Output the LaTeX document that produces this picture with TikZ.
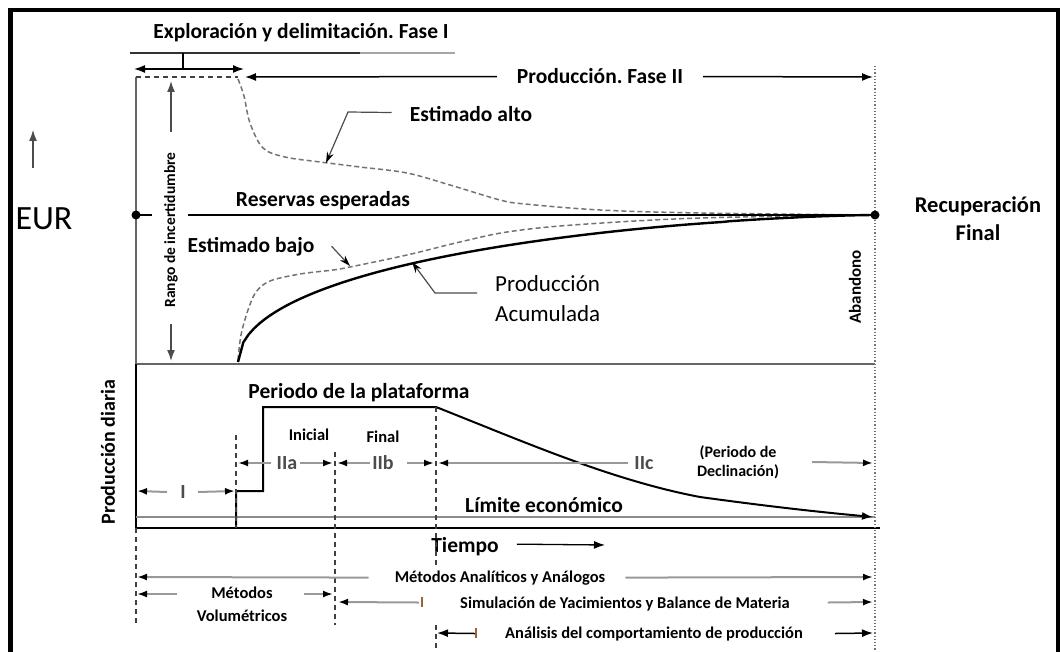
\documentclass[tikz,border=0pt]{standalone}
\usepackage{fontspec}
\setmainfont{Carlito}
\usetikzlibrary{arrows.meta,positioning,calc}
\frenchspacing

\tikzstyle{border} = [line width=4.5pt]
\tikzstyle{axisline} = [line width=1.5pt]
\tikzstyle{estline} = [draw=black!55, line width=1.5pt, dash pattern=on 5pt off 3pt]
\tikzstyle{guide} = [draw=black!75, line width=1.2pt, dash pattern=on 5pt off 4pt]
\tikzstyle{arrow} = [line width=1.5pt, -{Latex[length=11pt,width=8pt]}]
\tikzstyle{dimarrow} = [draw=black!40, line width=2pt, -{Latex[length=10pt,width=7pt,black]}]
\tikzstyle{leader} = [draw=black!70, line width=1.2pt, -{Stealth[length=11pt,width=7pt,black]}]
\tikzstyle{bigtxt} = [font=\bfseries\fontsize{21.5}{26}\selectfont, inner sep=0pt]
\tikzstyle{smalltxt} = [font=\bfseries\fontsize{16.5}{20}\selectfont, inner sep=0pt]
\tikzstyle{phasetxt} = [font=\bfseries\fontsize{20}{22}\selectfont, text=black!70, inner sep=0pt]

\begin{document}
\begin{tikzpicture}[x=1pt,y=-1pt]
\useasboundingbox (0,0) rectangle (1062,652);

% frame
\draw[border] (10.5,670) -- (10.5,10) -- (1058,10) -- (1058,670);

% labels
\node[bigtxt, anchor=base] (explo) at (301,39) {Exploración y delimitación. Fase I};
\node[bigtxt, anchor=base] (faseII) at (600,84) {Producción. Fase II};
\node[bigtxt, anchor=base] (alto) at (471,122) {Estimado alto};
\node[bigtxt, anchor=base] (reservas) at (323,207) {Reservas esperadas};
\node[bigtxt, anchor=base] (bajo) at (251,252) {Estimado bajo};
\node[font=\fontsize{23}{30}\selectfont, align=left, anchor=west, inner sep=0pt] (acum) at (495,299) {Producción\\Acumulada};
\node[font=\fontsize{34}{36}\selectfont, anchor=base, inner sep=0pt] (eur) at (44,230) {EUR};
\node[font=\bfseries\fontsize{22.5}{28}\selectfont, align=center, inner sep=0pt] (recup) at (978,219) {Recuperación\\Final};
\node[font=\bfseries\fontsize{15.5}{18}\selectfont, rotate=90, inner sep=0pt] (rango) at (171,230) {Rango de incertidumbre};
\node[font=\bfseries\fontsize{17}{20}\selectfont, rotate=90, inner sep=0pt] (aband) at (855,287) {Abandono};
\node[font=\bfseries\fontsize{20}{22}\selectfont, rotate=90, inner sep=0pt] (diaria) at (108,452) {Producción diaria};
\node[bigtxt, anchor=base] (plat) at (359,398) {Periodo de la plataforma};
\node[smalltxt, anchor=base] (inicial) at (309,440) {Inicial};
\node[smalltxt, anchor=base] (final) at (383,442) {Final};
\node[phasetxt] (ph1) at (183,492) {I};
\node[phasetxt] (ph2a) at (287,463) {IIa};
\node[phasetxt] (ph2b) at (383,463) {IIb};
\node[phasetxt] (ph2c) at (644,463) {IIc};
\node[font=\bfseries\fontsize{16}{19}\selectfont, align=center, inner sep=0pt] (decl) at (738,462) {(Periodo de\\Declinación)};
\node[bigtxt, anchor=base] (limite) at (544,512) {Límite económico};
\node[bigtxt, anchor=base] (tiempo) at (465,552) {Tiempo};
\node[smalltxt, anchor=base] (analog) at (500,582) {Métodos Analíticos y Análogos};
\node[font=\bfseries\fontsize{16.5}{23}\selectfont, align=center, inner sep=0pt] (volum) at (242,604) {Métodos\\Volumétricos};
\node[smalltxt, anchor=base] (simul) at (625,608) {Simulación de Yacimientos y Balance de Materia};
\node[smalltxt, anchor=base] (analis) at (654,638) {Análisis del comportamiento de producción};

% axes and reference lines
\draw[axisline, draw=black!60] (136,77) -- (136,364) -- (875,364);
\draw[axisline] (136,364) -- (136,528) -- (880,528);
\draw[draw=black!45, line width=1.3pt] (136,517) -- (875,517);
\draw[black!55, line width=1.2pt, dotted] (875,66) -- (875,652);
\draw[guide] (136,77) -- (238,77);

% uncertainty curves
\draw[estline] plot[smooth, tension=0.55] coordinates {(238,79) (244,96) (250,123) (263,148) (285,157) (320,162) (360,167) (407,173) (450,185) (500,200) (525,204) (600,210) (700,213) (875,215)};
\draw[estline] plot[smooth, tension=0.55] coordinates {(238,360) (241,335) (248,310) (256,292) (270,281) (300,274) (333,270) (350,267) (407,255) (460,242) (507,232) (573,225) (700,218) (875,215)};
\draw[line width=2.4pt] plot[domain=0:0.998, samples=120] ({238+637*\x}, {362-147*(1-(1-sqrt(\x))^1.5)}) -- (875,215);

% expected reserves
\draw[line width=2.6pt] (136,215) -- (152,215);
\draw[line width=2.6pt] (188,215) -- (875,215);
\fill (136,215) circle (4.5pt);
\fill (875,215) circle (4.5pt);

% daily production
\draw[line width=2pt, -{Latex[length=11pt,width=8pt]}] (236,528) -- (236,491) -- (263,491) -- (263,407) -- (436,407)
  .. controls (520,440) and (610,480) .. (700,497)
  .. controls (780,508) and (830,513) .. (873,517);

% vertical guides
\draw[guide] (236,435) -- (236,528);
\draw[guide] (335,452) -- (335,625);
\draw[guide] (436,407) -- (436,566);
\draw[guide] (436,625) -- (436,652);
\draw[guide] (136,528) -- (136,625);

% phase I bracket
\draw[line width=1.5pt, black!80] (130,53) -- (360,53);
\draw[line width=1.5pt, black!35] (360,53) -- (455,53);
\coordinate (brL) at (134,69);
\coordinate (brR) at (244,69);
\draw[line width=1.5pt] (183,53) -- (183,69);
\draw[line width=1.5pt, {Latex[length=11pt,width=8pt]}-{Latex[length=11pt,width=8pt]}] (brL) -- (brR);

% phase II
\coordinate (f2L) at (245,77);
\coordinate (f2R) at (873,77);
\draw[arrow] ([xshift=-20pt]faseII.west) -- (f2L);
\draw[arrow] ([xshift=20pt]faseII.east) -- (f2R);

% uncertainty range
\coordinate (rgTop) at (171,81);
\coordinate (rgBot) at (171,361);
\draw[arrow, draw=black!70] ([yshift=20pt]rango.east) -- (rgTop);
\draw[arrow, draw=black!70] ([yshift=-16pt]rango.west) -- (rgBot);

% EUR
\coordinate (eurS) at (33,168);
\coordinate (eurT) at (33,130);
\draw[arrow, line width=1.2pt, draw=black!70] (eurS) -- (eurT);

% leaders
\coordinate (altoK) at (348,112);
\coordinate (altoP) at (326,163);
\draw[leader] ($(alto.west)+(-18,-2)$) -- (altoK) -- (altoP);
\coordinate (bajoP) at (350,266);
\draw[leader] ($(bajo.east)+(17,0)$) -- (bajoP);
\coordinate (acumK) at (435,293);
\coordinate (acumP) at (412,262);
\draw[leader] ($(acum.west)+(-18,-6)$) -- (acumK) -- (acumP);

% stage arrows
\coordinate (pI0) at (137,491);
\coordinate (pI1) at (235,491);
\draw[dimarrow] ($(ph1)+(-16,0)$) -- (pI0);
\draw[dimarrow] ($(ph1)+(15,0)$) -- (pI1);
\coordinate (paL) at (238,463);
\coordinate (paR) at (333,463);
\coordinate (pbL) at (337,463);
\coordinate (pbR) at (434,463);
\coordinate (pcL) at (438,463);
\coordinate (pcR) at (873,463);
\draw[dimarrow] ($(ph2a.west)+(-6,0)$) -- (paL);
\draw[dimarrow] ($(ph2a.east)+(3,0)$) -- (paR);
\draw[dimarrow] ($(ph2b.west)+(-2,0)$) -- (pbL);
\draw[dimarrow] ($(ph2b.east)+(13,0)$) -- (pbR);
\draw[dimarrow] ($(ph2c.west)+(-6,0)$) -- (pcL);
\draw[dimarrow] ($(decl.east)+(33,0)$) -- (pcR);

% time
\coordinate (tEnd) at (605,545);
\draw[arrow, line width=1.3pt] ($(tiempo.east)+(18,-2)$) -- (tEnd);

% methods
\coordinate (r1L) at (137,577);
\coordinate (r1R) at (873,577);
\draw[dimarrow] ($(analog.west)+(-26,0)$) -- (r1L);
\draw[dimarrow] ($(analog.east)+(20,0)$) -- (r1R);
\coordinate (vL) at (137,594);
\coordinate (vR) at (333,594);
\draw[dimarrow] ($(volum.west)+(-20,-10)$) -- (vL);
\draw[dimarrow] ($(volum.east)+(17,-10)$) -- (vR);
\coordinate (sL) at (338,602);
\coordinate (sR) at (873,602);
\draw[dimarrow] ($(simul.west)+(-41,-1)$) -- (sL);
\draw[line width=1.4pt, brown!80!black] (422,597) -- (422,607);
\draw[dimarrow] ($(simul.east)+(38,-1)$) -- (sR);
\coordinate (aL) at (437,633);
\coordinate (aR) at (873,633);
\draw[arrow] ($(analis.west)+(-30,0)$) -- (aL);
\draw[line width=1.4pt, brown!80!black] (476,628) -- (476,638);
\draw[arrow] ($(analis.east)+(32,0)$) -- (aR);

\end{tikzpicture}
\end{document}
